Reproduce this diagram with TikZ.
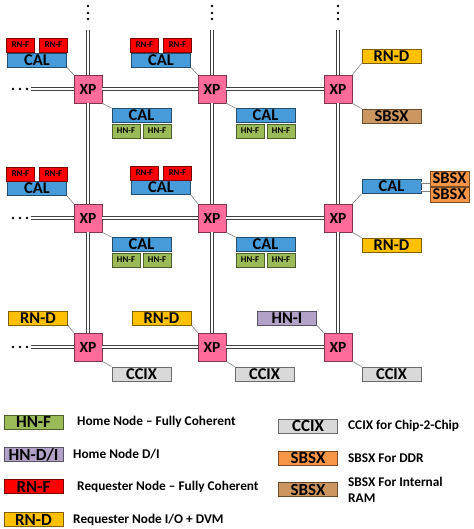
\documentclass[tikz,border=0pt]{standalone}
\usepackage{fontspec}
\setmainfont{Carlito}
\definecolor{calc}{HTML}{469BD8}
\definecolor{rnfc}{HTML}{FF0000}
\definecolor{hnfc}{HTML}{9BBB59}
\definecolor{rndc}{HTML}{FFC000}
\definecolor{sbbr}{HTML}{CC9660}
\definecolor{sbor}{HTML}{F79646}
\definecolor{xpc}{HTML}{FF6B9B}
\definecolor{hnic}{HTML}{B3A2C7}
\definecolor{ccixc}{HTML}{D9D9D9}
\begin{document}
\begin{tikzpicture}[x=1pt,y=-1pt,
  box/.style={draw=#1!50!black, fill=#1, line width=0.8pt, inner sep=0pt, minimum height=14pt, font=\bfseries\fontsize{16.5}{16}\selectfont},
  big/.style={box=#1, minimum width=59pt},
  small/.style={box=#1, minimum width=28pt, font=\bfseries\fontsize{8.8}{9}\selectfont},
  xpbox/.style={box=xpc, minimum width=28pt, minimum height=28pt, font=\bfseries\fontsize{15.5}{16}\selectfont},
  lgbox/.style={box=#1, minimum width=59pt, font=\bfseries\fontsize{17}{17}\selectfont},
  lgtext/.style={anchor=west, inner sep=0pt, font=\bfseries\fontsize{13.3}{16}\selectfont, align=left},
  bus/.style={draw=black!75, line width=1pt, double=white, double distance=1.3pt},
  link/.style={draw=black!50, line width=0.6pt},
  sblink/.style={draw=black!50, line width=0.5pt, double=white, double distance=1pt},
  dot/.style={fill=black, draw=none}
]
\useasboundingbox (0,0) rectangle (473,529);

% crosspoints
\node[xpbox] (xp11) at (88,89) {XP};
\node[xpbox] (xp21) at (212,89) {XP};
\node[xpbox] (xp31) at (338,89) {XP};
\node[xpbox] (xp12) at (88,218) {XP};
\node[xpbox] (xp22) at (212,218) {XP};
\node[xpbox] (xp32) at (338,218) {XP};
\node[xpbox] (xp13) at (88,347) {XP};
\node[xpbox] (xp23) at (212,347) {XP};
\node[xpbox] (xp33) at (338,347) {XP};

% bus ends
\coordinate (top1) at (88,30);
\coordinate (top2) at (212,30);
\coordinate (top3) at (338,30);
\coordinate (left1) at (31,89);
\coordinate (left2) at (31,218);
\coordinate (left3) at (31,347);

\draw[bus] (top1) -- (xp11) -- (xp12) -- (xp13);
\draw[bus] (top2) -- (xp21) -- (xp22) -- (xp23);
\draw[bus] (top3) -- (xp31) -- (xp32) -- (xp33);
\draw[bus] (left1) -- (xp11) -- (xp21) -- (xp31);
\draw[bus] (left2) -- (xp12) -- (xp22) -- (xp32);
\draw[bus] (left3) -- (xp13) -- (xp23) -- (xp33);

% dots
\foreach \x in {88,212,338} \foreach \y in {6,13,19} \fill[dot] (\x,\y) circle (1.4);
\foreach \y in {89,218,347} \foreach \x in {13,20,27} \fill[dot] (\x,\y) circle (1.4);

% row 1, column 1
\node[big=calc] (cal11a) at (37,60) {CAL};
\node[small=rnfc] (rnf11a) at (20.5,45) {RN-F};
\node[small=rnfc] (rnf11b) at (53.5,45) {RN-F};
\node[big=calc] (cal11b) at (141.5,115.5) {CAL};
\node[small=hnfc] (hnf11a) at (126,131) {HN-F};
\node[small=hnfc] (hnf11b) at (157,131) {HN-F};
% row 1, column 2
\node[big=calc] (cal21a) at (161,60) {CAL};
\node[small=rnfc] (rnf21a) at (144.5,45) {RN-F};
\node[small=rnfc] (rnf21b) at (177.5,45) {RN-F};
\node[big=calc] (cal21b) at (265.5,115.5) {CAL};
\node[small=hnfc] (hnf21a) at (250,131) {HN-F};
\node[small=hnfc] (hnf21b) at (281,131) {HN-F};
% row 1, column 3
\node[big=rndc] (rnd31) at (391.5,56) {RN-D};
\node[big=sbbr] (sbsx31) at (391.5,116) {SBSX};

% row 2, column 1
\node[big=calc] (cal12a) at (37,188.5) {CAL};
\node[small=rnfc] (rnf12a) at (20.5,174) {RN-F};
\node[small=rnfc] (rnf12b) at (53.5,174) {RN-F};
\node[big=calc] (cal12b) at (141.5,244.5) {CAL};
\node[small=hnfc] (hnf12a) at (126,260) {HN-F};
\node[small=hnfc] (hnf12b) at (157,260) {HN-F};
% row 2, column 2
\node[big=calc] (cal22a) at (161,187.5) {CAL};
\node[small=rnfc] (rnf22a) at (144.5,173) {RN-F};
\node[small=rnfc] (rnf22b) at (177.5,173) {RN-F};
\node[big=calc] (cal22b) at (265.5,244.5) {CAL};
\node[small=hnfc] (hnf22a) at (250,260) {HN-F};
\node[small=hnfc] (hnf22b) at (281,260) {HN-F};
% row 2, column 3
\node[big=calc] (cal32) at (391.5,186.5) {CAL};
\node[box=sbor, minimum width=39pt, minimum height=15pt] (sbsx32a) at (449.5,178.5) {SBSX};
\node[box=sbor, minimum width=39pt, minimum height=15pt] (sbsx32b) at (449.5,194.5) {SBSX};
\node[big=rndc] (rnd32) at (391.5,245) {RN-D};

% row 3
\node[big=rndc] (rnd13) at (38,318) {RN-D};
\node[big=ccixc] (ccix13) at (141.5,374) {CCIX};
\node[big=rndc] (rnd23) at (161.5,318) {RN-D};
\node[big=ccixc] (ccix23) at (264.5,374) {CCIX};
\node[big=hnic] (hni33) at (287,318) {HN-I};
\node[big=ccixc] (ccix33) at (391.5,374) {CCIX};

% links
\draw[link] (cal11a.south east) -- (xp11.north west);
\draw[link] (xp11.south east) -- (cal11b.north west);
\draw[link] (cal21a.south east) -- (xp21.north west);
\draw[link] (xp21.south east) -- (cal21b.north west);
\draw[link] (rnd31.south west) -- (xp31.north east);
\draw[link] (xp31.south east) -- (sbsx31.north west);
\draw[link] (cal12a.south east) -- (xp12.north west);
\draw[link] (xp12.south east) -- (cal12b.north west);
\draw[link] (cal22a.south east) -- (xp22.north west);
\draw[link] (xp22.south east) -- (cal22b.north west);
\draw[link] (cal32.south west) -- (xp32.north east);
\draw[link] (xp32.south east) -- (rnd32.north west);
\draw[link] (rnd13.south east) -- (xp13.north west);
\draw[link] (xp13.south east) -- (ccix13.north west);
\draw[link] (rnd23.south east) -- (xp23.north west);
\draw[link] (xp23.south east) -- (ccix23.north west);
\draw[link] (hni33.south east) -- (xp33.north west);
\draw[link] (xp33.south east) -- (ccix33.north west);
\draw[sblink] ([yshift=3.5pt]cal32.east) -- ([yshift=3.5pt]cal32.east -| sbsx32a.west);
\draw[sblink] ([yshift=-4.5pt]cal32.east) -- ([yshift=-4.5pt]cal32.east -| sbsx32b.west);

% legend
\node[lgbox=hnfc] (lhnf) at (33.5,422) {HN-F};
\node[lgtext] (thnf) at (77,422) {Home Node – Fully Coherent};
\node[lgbox=hnic] (lhnd) at (33.5,454.5) {HN-D/I};
\node[lgtext] (thnd) at (73,454.5) {Home Node D/I};
\node[lgbox=rnfc] (lrnf) at (33.5,486.5) {RN-F};
\node[lgtext] (trnf) at (77,486.5) {Requester Node – Fully Coherent};
\node[lgbox=rndc] (lrnd) at (33.5,519.5) {RN-D};
\node[lgtext] (trnd) at (73,519.5) {Requester Node I/O + DVM};
\node[lgbox=ccixc] (lccix) at (308,426) {CCIX};
\node[lgtext] (tccix) at (348,426) {CCIX for Chip-2-Chip};
\node[lgbox=sbor] (lsb1) at (308,458) {SBSX};
\node[lgtext] (tsb1) at (348,458) {SBSX For DDR};
\node[lgbox=sbbr] (lsb2) at (308,489.5) {SBSX};
\node[lgtext] (tsb2) at (348,489.5) {SBSX For Internal\\RAM};
\end{tikzpicture}
\end{document}
